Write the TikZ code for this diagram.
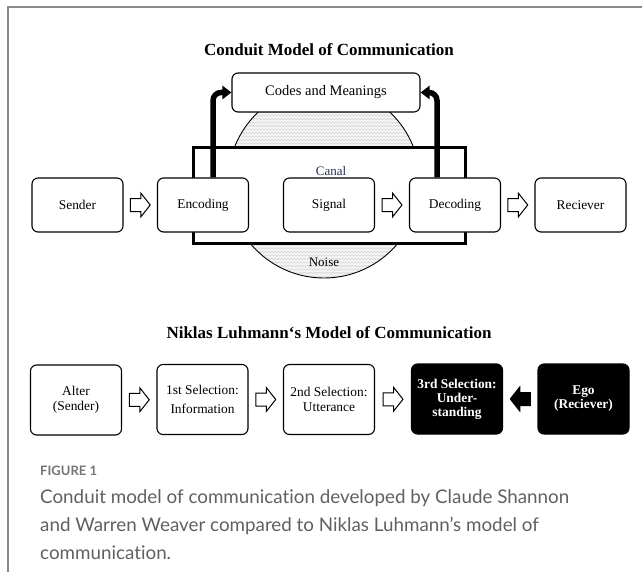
\documentclass[tikz,border=0pt]{standalone}
\usepackage{fontspec}
\setmainfont{Liberation Serif}
\newfontfamily\capfont[Ligatures={NoCommon}]{Lato}
\usetikzlibrary{arrows.meta,calc,decorations.pathmorphing}
\definecolor{framegray}{HTML}{8A8A8A}
\definecolor{capgray}{HTML}{606060}
\definecolor{figgray}{HTML}{747474}
\definecolor{canalblue}{HTML}{26324F}
\begin{document}
\begin{tikzpicture}[x=1pt,y=-1pt,
  box/.style={draw, line width=1.1pt, rounded corners=6pt, fill=white,
    minimum width=91pt, minimum height=54pt, inner sep=0pt, align=center,
    font=\fontsize{13.4}{15}\selectfont},
  lbox/.style={box, minimum height=70pt},
  dbox/.style={lbox, fill=black, text=white,
    font=\fontsize{13.4}{14}\selectfont\bfseries},
  title/.style={font=\fontsize{17}{20}\selectfont\bfseries, inner sep=0pt},
  bigarrow/.style={line width=5.5pt, rounded corners=8pt,
    -{Triangle[length=9pt 0,width=13pt 0]}},
  harrow/.pic={\draw[line width=1pt, fill=white, line join=miter]
    (-10,-6.5) -- (0.5,-6.5) -- (0.5,-12) -- (10,0) -- (0.5,12) -- (0.5,6.5) -- (-10,6.5) -- cycle;},
  barrow/.pic={\draw[line width=1pt, fill=black, line join=miter]
    (10,-6.5) -- (-0.5,-6.5) -- (-0.5,-12) -- (-10,0) -- (-0.5,12) -- (-0.5,6.5) -- (10,6.5) -- cycle;},
  caption/.style={anchor=west, inner sep=0pt, text=capgray,
    font=\capfont\fontsize{18.8}{22}\selectfont}
]
\useasboundingbox (0,0) rectangle (642,572);
% frame
\draw[framegray, line width=1.5pt] (8,572) -- (8,7) -- (642,7);

% ---------- Conduit model ----------
\node[title] (t1) at (329,50) {Conduit Model of Communication};

% noise circle (hatched)
\begin{scope}
  \clip (324,182) circle[radius=96pt];
  \fill[gray!7] (220,80) rectangle (430,290);
  \foreach \yy in {84,87.5,...,282}
    \draw[gray!45, line width=0.3pt, decorate,
      decoration={zigzag, segment length=3.2pt, amplitude=0.9pt}]
      (220,\yy) -- (430,\yy);
\end{scope}
\draw[line width=0.9pt] (324,182) circle[radius=96pt];

% canal rectangle
\node[draw, line width=3pt, fill=white, minimum width=272pt, minimum height=95pt,
  inner sep=0pt] (canal) at (329.5,195.5) {};
\node[text=canalblue, font=\fontsize{13}{15}\selectfont] (canallbl) at (331,171) {Canal};
\node[font=\fontsize{13}{15}\selectfont] (noise) at (324,262) {Noise};

\node[box, minimum width=188pt, minimum height=39pt, font=\fontsize{14.5}{16}\selectfont]
  (codes) at (326,92.5) {Codes and Meanings};

\node[box] (sender) at (77.5,205) {Sender};
\node[box] (enc)    at (203,205)  {Encoding};
\node[box] (sig)    at (329,205)  {Signal};
\node[box] (dec)    at (455,205)  {Decoding};
\node[box] (rec)    at (580.5,205) {Reciever};

\draw[bigarrow] ([xshift=10pt]enc.north) |- (codes.west);
\draw[bigarrow] ([xshift=-18pt]dec.north) |- (codes.east);

\pic at ($(sender.east)!0.5!(enc.west)$) {harrow};
\pic at ($(sig.east)!0.5!(dec.west)$) {harrow};
\pic at ($(dec.east)!0.5!(rec.west)$) {harrow};

% ---------- Luhmann model ----------
\node[title] (t2) at (329,333) {Niklas Luhmann‘s Model of Communication};

\node[lbox] (alter) at (76,400) {Alter\\(Sender)};
\node[lbox] (sel1)  at (202.5,399.5) {1st Selection:\\[4pt]Information};
\node[lbox] (sel2)  at (329,399.5) {2nd Selection:\\Utterance};
\node[dbox] (sel3)  at (457,399) {3rd Selection:\\Under-\\standing};
\node[dbox] (ego)   at (583.5,399) {Ego\\(Reciever)};

\pic at ($(alter.east)!0.5!(sel1.west)$) {harrow};
\pic at ($(sel1.east)!0.5!(sel2.west)$) {harrow};
\pic at ($(sel2.east)!0.5!(sel3.west)$) {harrow};
\pic at ($(sel3.east)!0.5!(ego.west)$) {barrow};

% ---------- caption ----------
\node[anchor=west, inner sep=0pt, text=figgray,
  font=\capfont\bfseries\fontsize{13}{15}\selectfont] (fig) at (40,471) {FIGURE 1};
\node[caption] (cap1) at (40,498) {Conduit model of communication developed by Claude Shannon};
\node[caption] (cap2) at (40,526) {and Warren Weaver compared to Niklas Luhmann’s model of};
\node[caption] (cap3) at (40,553) {communication.};
\end{tikzpicture}
\end{document}
